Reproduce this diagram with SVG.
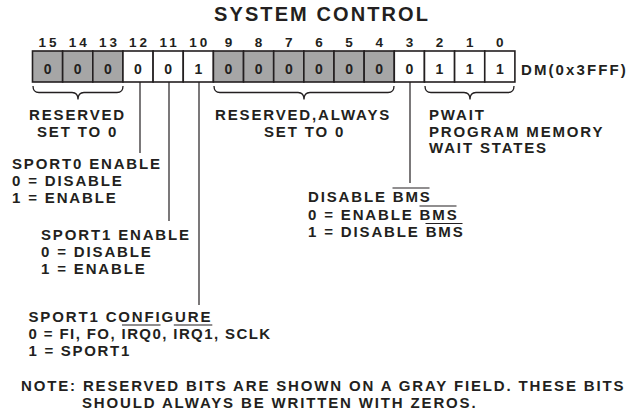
<svg xmlns="http://www.w3.org/2000/svg" width="637" height="413" viewBox="0 0 637 413">
<style>
text{font-family:"Liberation Sans",Arial,sans-serif;font-weight:bold;fill:#231f20}
.t{font-size:15px;letter-spacing:1.85px}
.bn{font-size:13.5px;letter-spacing:3px;text-anchor:middle}
.cv{font-size:14px;text-anchor:middle}
.cell{stroke:#231f20;stroke-width:1.6}
.res{fill:#a6a6a6}
.use{fill:#ffffff}
.ln{stroke:#231f20;stroke-width:1.2;fill:none}
.br{stroke:#231f20;stroke-width:1.3;fill:none}
.ov{stroke:#231f20;stroke-width:1.2}
</style>
<rect width="637" height="413" fill="#ffffff"/>
<text x="214" y="20.5" style="font-size:20px;letter-spacing:2.1px">SYSTEM CONTROL</text>
<g id="register">
<g id="bitnums">
<text class="bn" x="49.1" y="47">15</text>
<text class="bn" x="79.2" y="47">14</text>
<text class="bn" x="109.4" y="47">13</text>
<text class="bn" x="139.5" y="47">12</text>
<text class="bn" x="169.7" y="47">11</text>
<text class="bn" x="199.8" y="47">10</text>
<text class="bn" x="230" y="47">9</text>
<text class="bn" x="260.1" y="47">8</text>
<text class="bn" x="290.3" y="47">7</text>
<text class="bn" x="320.4" y="47">6</text>
<text class="bn" x="350.6" y="47">5</text>
<text class="bn" x="380.7" y="47">4</text>
<text class="bn" x="410.9" y="47">3</text>
<text class="bn" x="441" y="47">2</text>
<text class="bn" x="471.2" y="47">1</text>
<text class="bn" x="501.3" y="47">0</text>
</g>
<g id="cells">
<rect class="cell res" x="32.5" y="51" width="30.15" height="31"/>
<rect class="cell res" x="62.65" y="51" width="30.15" height="31"/>
<rect class="cell res" x="92.8" y="51" width="30.15" height="31"/>
<rect class="cell use" x="122.95" y="51" width="30.15" height="31"/>
<rect class="cell use" x="153.1" y="51" width="30.15" height="31"/>
<rect class="cell use" x="183.25" y="51" width="30.15" height="31"/>
<rect class="cell res" x="213.4" y="51" width="30.15" height="31"/>
<rect class="cell res" x="243.55" y="51" width="30.15" height="31"/>
<rect class="cell res" x="273.7" y="51" width="30.15" height="31"/>
<rect class="cell res" x="303.85" y="51" width="30.15" height="31"/>
<rect class="cell res" x="334" y="51" width="30.15" height="31"/>
<rect class="cell res" x="364.15" y="51" width="30.15" height="31"/>
<rect class="cell use" x="394.3" y="51" width="30.15" height="31"/>
<rect class="cell use" x="424.45" y="51" width="30.15" height="31"/>
<rect class="cell use" x="454.6" y="51" width="30.15" height="31"/>
<rect class="cell use" x="484.75" y="51" width="30.15" height="31"/>
</g>
<g id="values">
<text class="cv" x="47.6" y="74">0</text>
<text class="cv" x="77.7" y="74">0</text>
<text class="cv" x="107.9" y="74">0</text>
<text class="cv" x="138" y="74">0</text>
<text class="cv" x="168.2" y="74">0</text>
<text class="cv" x="198.3" y="74">1</text>
<text class="cv" x="228.5" y="74">0</text>
<text class="cv" x="258.6" y="74">0</text>
<text class="cv" x="288.8" y="74">0</text>
<text class="cv" x="318.9" y="74">0</text>
<text class="cv" x="349.1" y="74">0</text>
<text class="cv" x="379.2" y="74">0</text>
<text class="cv" x="409.4" y="74">0</text>
<text class="cv" x="439.5" y="74">1</text>
<text class="cv" x="469.7" y="74">1</text>
<text class="cv" x="499.8" y="74">1</text>
</g>
<text class="t" x="521" y="75" style="letter-spacing:2.1px">DM(0x3FFF)</text>
</g>
<g id="connectors">
<path class="br" d="M33,86 Q33,92.5 39,92.5 L72,92.5 Q78,92.5 78,99.5 Q78,92.5 84,92.5 L117,92.5 Q123,92.5 123,86"/>
<path class="br" d="M214,86 Q214,92.5 220,92.5 L298,92.5 Q304,92.5 304,99.5 Q304,92.5 310,92.5 L388,92.5 Q394,92.5 394,86"/>
<path class="br" d="M425,86 Q425,92.5 431,92.5 L464,92.5 Q470,92.5 470,99.5 Q470,92.5 476,92.5 L508,92.5 Q514,92.5 514,86"/>
<line class="ln" x1="140" y1="82" x2="140" y2="153"/>
<line class="ln" x1="169" y1="82" x2="169" y2="221"/>
<line class="ln" x1="199" y1="82" x2="199" y2="305"/>
<line class="ln" x1="410" y1="82" x2="410" y2="183"/>
</g>
<g id="reserved-15-13">
<text class="t" x="29" y="120">RESERVED</text>
<text class="t" x="37" y="136.5">SET TO 0</text>
</g>
<g id="reserved-9-4">
<text class="t" x="215" y="120">RESERVED,ALWAYS</text>
<text class="t" x="264" y="136.5">SET TO 0</text>
</g>
<g id="pwait">
<text class="t" x="429" y="120">PWAIT</text>
<text class="t" x="429" y="136.5">PROGRAM MEMORY</text>
<text class="t" x="429" y="153">WAIT STATES</text>
</g>
<g id="sport0">
<text class="t" x="12" y="169">SPORT0 ENABLE</text>
<text class="t" x="12" y="186">0 = DISABLE</text>
<text class="t" x="12" y="203">1 = ENABLE</text>
</g>
<g id="sport1-enable">
<text class="t" x="41" y="240">SPORT1 ENABLE</text>
<text class="t" x="41" y="257">0 = DISABLE</text>
<text class="t" x="41" y="274">1 = ENABLE</text>
</g>
<g id="bms">
<text class="t" x="308" y="201.5">DISABLE BMS</text>
<text class="t" x="308" y="219.5">0 = ENABLE BMS</text>
<text class="t" x="308" y="237">1 = DISABLE BMS</text>
<line class="ov" x1="392.5" y1="188" x2="429.5" y2="188"/>
<line class="ov" x1="419.5" y1="206" x2="456.5" y2="206"/>
<line class="ov" x1="425.5" y1="223.5" x2="462.5" y2="223.5"/>
</g>
<g id="sport1-config">
<text class="t" x="28.5" y="322">SPORT1 CONFIGURE</text>
<text class="t" x="28.5" y="339" style="letter-spacing:1.4px">0 = FI, FO, IRQ0, IRQ1, SCLK</text>
<text class="t" x="28.5" y="355.5" style="letter-spacing:1.7px">1 = SPORT1</text>
<line class="ov" x1="122" y1="325" x2="160.5" y2="325"/>
<line class="ov" x1="173.8" y1="325" x2="212.3" y2="325"/>
</g>
<g id="note">
<text class="t" x="21" y="391">NOTE: RESERVED BITS ARE SHOWN ON A GRAY FIELD. THESE BITS</text>
<text class="t" x="82" y="407.5">SHOULD ALWAYS BE WRITTEN WITH ZEROS.</text>
</g>
</svg>
